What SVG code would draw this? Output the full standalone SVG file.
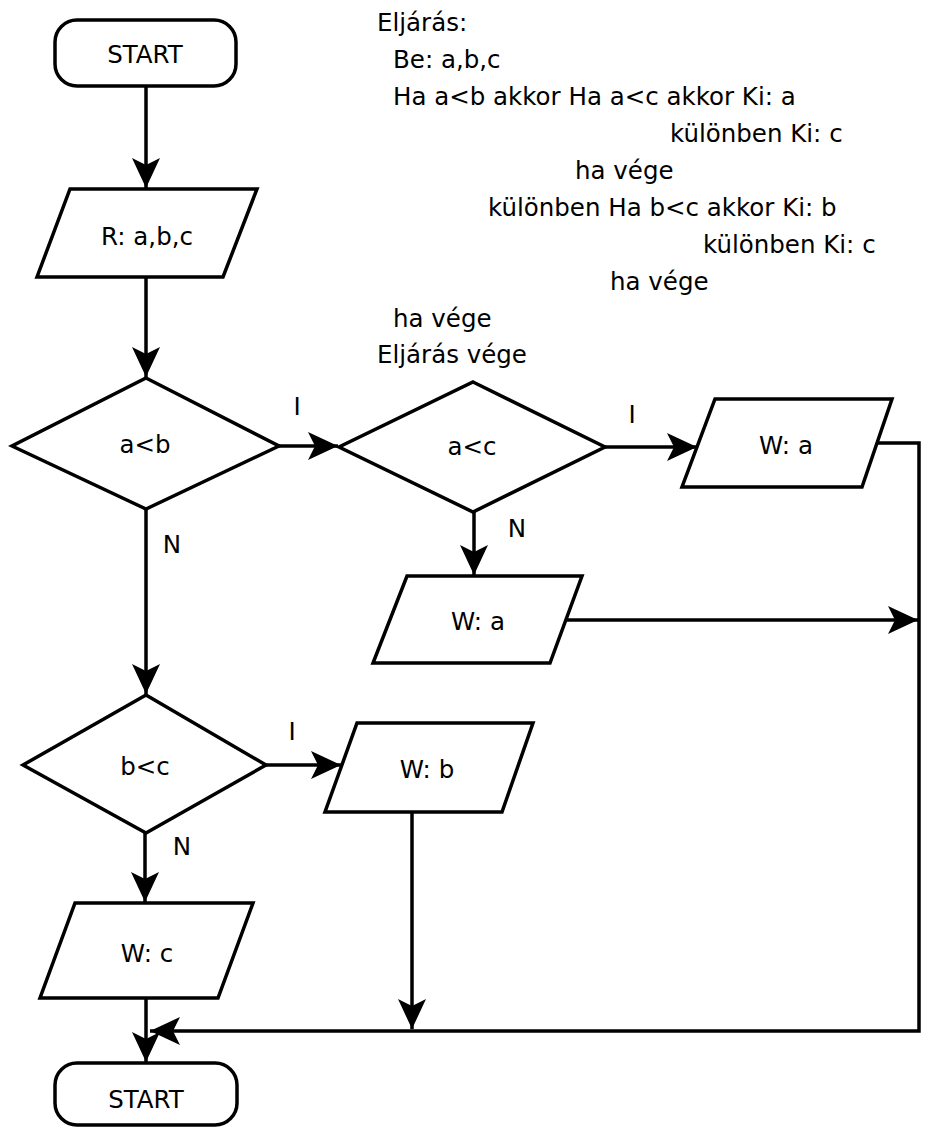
<svg xmlns="http://www.w3.org/2000/svg" width="925" height="1131" viewBox="0 0 925 1131">
<style>
.sh{fill:#fff;stroke:#000;stroke-width:3.5;stroke-linejoin:miter}
.ln{fill:none;stroke:#000;stroke-width:3.5}
.t{font-family:"DejaVu Sans",Verdana,sans-serif;font-size:24.5px;fill:#000}
.c{text-anchor:middle}
</style>
<defs>
<marker id="ah" viewBox="-31 -16 33 32" refX="0" refY="0" markerWidth="33" markerHeight="32" orient="auto" markerUnits="userSpaceOnUse">
<path d="M0,0 L-30,-14 L-23,0 L-30,14 Z" fill="#000"/>
</marker>
</defs>
<rect width="925" height="1131" fill="#fff"/>
<g id="connectors">
<line class="ln" x1="146" y1="86" x2="146" y2="188" marker-end="url(#ah)"/>
<line class="ln" x1="146" y1="277" x2="146" y2="377" marker-end="url(#ah)"/>
<line class="ln" x1="277" y1="446" x2="338" y2="446" marker-end="url(#ah)"/>
<line class="ln" x1="605" y1="447" x2="697" y2="447" marker-end="url(#ah)"/>
<line class="ln" x1="474" y1="512" x2="474" y2="575" marker-end="url(#ah)"/>
<line class="ln" x1="146" y1="508" x2="146" y2="694" marker-end="url(#ah)"/>
<line class="ln" x1="265" y1="765" x2="341" y2="765" marker-end="url(#ah)"/>
<line class="ln" x1="145" y1="833" x2="145" y2="902" marker-end="url(#ah)"/>
<line class="ln" x1="146" y1="998" x2="146" y2="1062" marker-end="url(#ah)"/>
<polyline class="ln" points="877,443 919,443 919,1031 150,1031" marker-end="url(#ah)"/>
<line class="ln" x1="566" y1="620" x2="918" y2="620" marker-end="url(#ah)"/>
<line class="ln" x1="412" y1="812" x2="412" y2="1029" marker-end="url(#ah)"/>
<text class="t c" x="297" y="415">I</text>
<text class="t c" x="632" y="423">I</text>
<text class="t c" x="517" y="537">N</text>
<text class="t c" x="172" y="553">N</text>
<text class="t c" x="292" y="740">I</text>
<text class="t c" x="182" y="855">N</text>
</g>
<g id="start">
<rect class="sh" x="55" y="20" width="181" height="66" rx="22" ry="22"/>
<text class="t c" x="145" y="63">START</text>
</g>
<g id="read">
<polygon class="sh" points="70,189 257,189 223,277 37,277"/>
<text class="t c" x="147" y="245">R: a,b,c</text>
</g>
<g id="dec-ab">
<polygon class="sh" points="146,378 279,446 146,509 12,446"/>
<text class="t c" x="145" y="453">a&lt;b</text>
</g>
<g id="dec-ac">
<polygon class="sh" points="473,382 605,447 473,512 339,447"/>
<text class="t c" x="472" y="455">a&lt;c</text>
</g>
<g id="out-a1">
<polygon class="sh" points="715,399 892,399 862,487 682,487"/>
<text class="t c" x="786" y="454">W: a</text>
</g>
<g id="out-a2">
<polygon class="sh" points="407,576 582,576 550,663 373,663"/>
<text class="t c" x="478" y="630">W: a</text>
</g>
<g id="dec-bc">
<polygon class="sh" points="146,695 266,765 146,833 23,765"/>
<text class="t c" x="145" y="775">b&lt;c</text>
</g>
<g id="out-b">
<polygon class="sh" points="357,723 533,723 502,812 325,812"/>
<text class="t c" x="427" y="778">W: b</text>
</g>
<g id="out-c">
<polygon class="sh" points="75,903 253,903 218,998 40,998"/>
<text class="t c" x="147" y="962">W: c</text>
</g>
<g id="end">
<rect class="sh" x="55" y="1063" width="182" height="62" rx="22" ry="22"/>
<text class="t c" x="146" y="1108">START</text>
</g>
<g id="pseudocode">
<text class="t" x="377" y="31">Eljárás:</text>
<text class="t" x="393" y="68">Be: a,b,c</text>
<text class="t" x="393" y="105">Ha a&lt;b akkor Ha a&lt;c akkor Ki: a</text>
<text class="t" x="670" y="142">különben Ki: c</text>
<text class="t" x="575" y="179">ha vége</text>
<text class="t" x="488" y="216">különben Ha b&lt;c akkor Ki: b</text>
<text class="t" x="703" y="253">különben Ki: c</text>
<text class="t" x="610" y="290">ha vége</text>
<text class="t" x="393" y="327">ha vége</text>
<text class="t" x="377" y="363">Eljárás vége</text>
</g>
</svg>
